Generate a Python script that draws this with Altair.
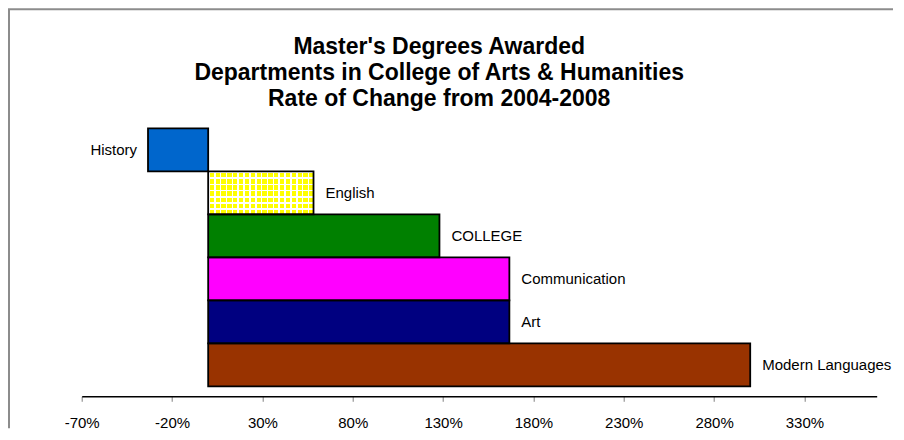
import altair as alt
import pandas as pd

# ---- data ----
categories = ["History", "English", "COLLEGE", "Communication", "Art", "Modern Languages"]
changes = [-33.3, 58.3, 128.0, 166.7, 166.7, 300.0]
colors = ["#0066CC", "#FFFF00", "#008000", "#FF00FF", "#000080", "#993300"]
tick_values = [-70, -20, 30, 80, 130, 180, 230, 280, 330]
title_lines = [
    "Master's Degrees Awarded",
    "Departments in College of Arts & Humanities",
    "Rate of Change from 2004-2008",
]

df = pd.DataFrame({"dept": categories, "change": changes})

FONT = "Liberation Sans"


def stripe_fill(n, vertical_lines):
    """White grid-line gradient (style only) used for the English pattern fill."""
    w = 0.27 / n
    stops = []
    for i in range(n):
        a = i / n
        stops += [
            {"offset": a, "color": "white"},
            {"offset": a + w, "color": "white"},
            {"offset": a + w, "color": "rgba(255,255,255,0)"},
            {"offset": (i + 1) / n, "color": "rgba(255,255,255,0)"},
        ]
    if vertical_lines:
        return {"gradient": "linear", "stops": stops, "x1": 0, "y1": 0, "x2": 1, "y2": 0}
    return {"gradient": "linear", "stops": stops, "x1": 0, "y1": 0, "x2": 0, "y2": 1}


x_enc = alt.X(
    "change:Q",
    scale=alt.Scale(domain=[-70, 370], nice=False, zero=False),
    axis=alt.Axis(
        values=tick_values,
        labelExpr="datum.value + '%'",
        title=None,
        grid=False,
        offset=10,
        domainColor="black",
        domainWidth=1.5,
        tickColor="#808080",
        tickSize=5,
        tickWidth=1,
        labelFont=FONT,
        labelFontSize=15,
        labelColor="black",
        labelPadding=14,
        labelFlush=False,
        labelOverlap=False,
    ),
)
y_enc = alt.Y(
    "dept:N",
    sort=categories,
    scale=alt.Scale(paddingInner=0, paddingOuter=0),
    axis=None,
)

base = alt.Chart(df)

bars = base.mark_bar().encode(
    x=x_enc,
    y=y_enc,
    color=alt.Color("dept:N", scale=alt.Scale(domain=categories, range=colors), legend=None),
)

english = base.transform_filter(alt.datum.dept == "English")
stripes_v = english.mark_bar(fill=stripe_fill(18, True)).encode(x="change:Q", y=y_enc)
stripes_h = english.mark_bar(fill=stripe_fill(7, False)).encode(x="change:Q", y=y_enc)

outline = base.mark_bar(fillOpacity=0, stroke="black", strokeWidth=1.8).encode(x="change:Q", y=y_enc)

pos_labels = base.transform_filter("datum.change >= 0").mark_text(
    align="left", baseline="middle", dx=12, font=FONT, fontSize=15, color="black"
).encode(x="change:Q", y=y_enc, text="dept:N")

neg_labels = base.transform_filter("datum.change < 0").mark_text(
    align="right", baseline="middle", dx=-11, font=FONT, fontSize=15, color="black"
).encode(x="change:Q", y=y_enc, text="dept:N")

frame = alt.Chart(alt.Data(values=[{}])).mark_rule(color="#8c8c8c", strokeWidth=2)
frame_top = frame.encode(x=alt.value(-73.7), x2=alt.value(812), y=alt.value(-119))
frame_left = frame.encode(x=alt.value(-72.7), y=alt.value(-119), y2=alt.value(300))

chart = alt.layer(
    bars, stripes_v, stripes_h, outline, pos_labels, neg_labels, frame_top, frame_left
).properties(
    width=795,
    height=258,
    autosize=alt.AutoSizeParams(type="none"),
    padding={"left": 73.7, "top": 120.3, "right": 16, "bottom": 44},
    title=alt.TitleParams(
        text=title_lines,
        font=FONT,
        fontSize=23,
        fontWeight="bold",
        lineHeight=26,
        anchor="middle",
        baseline="bottom",
        dx=-40,
        offset=-126,
        color="black",
    ),
).configure_view(stroke=None)

chart.save("out.html", embed_options={"renderer": "svg", "actions": False})
